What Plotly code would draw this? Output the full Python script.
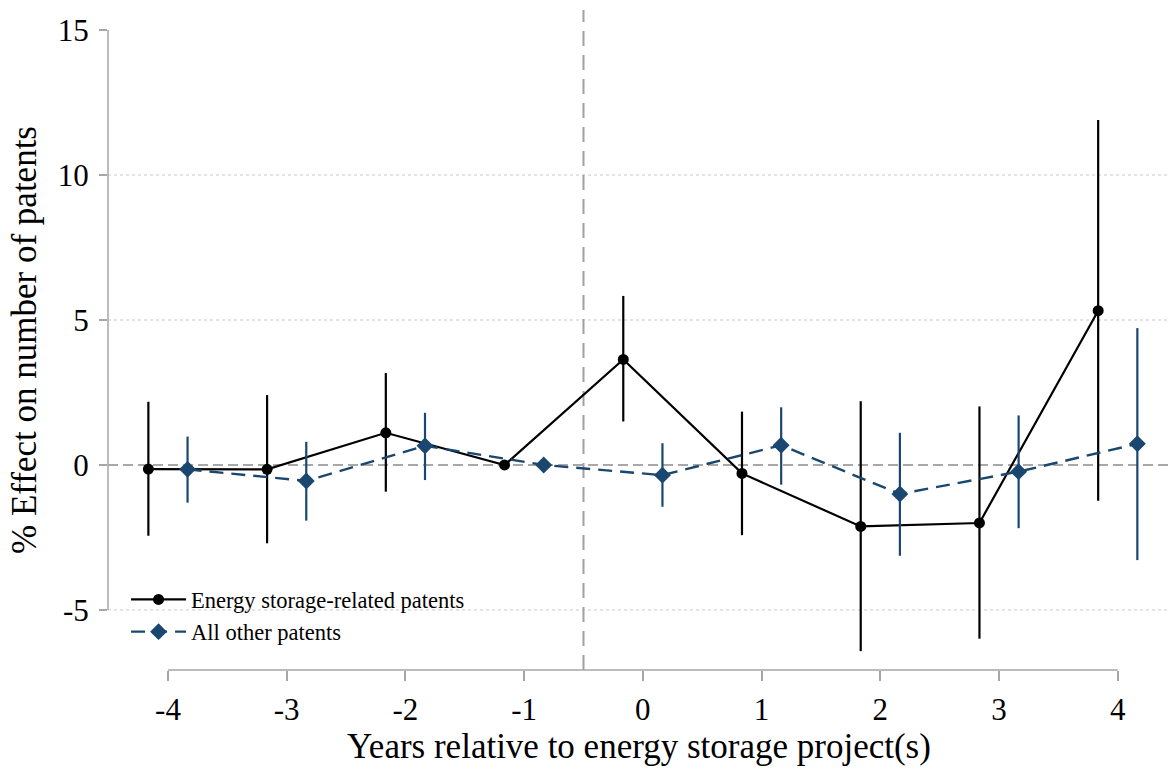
import plotly.graph_objects as go

years = [-4, -3, -2, -1, 0, 1, 2, 3, 4]
offset = 0.165

es_est = [-0.14, -0.15, 1.11, 0.0, 3.64, -0.29, -2.12, -2.00, 5.32]
es_hi = [2.18, 2.41, 3.17, 0.0, 5.83, 1.84, 2.20, 2.02, 11.9]
es_lo = [-2.44, -2.70, -0.92, 0.0, 1.50, -2.42, -6.42, -5.99, -1.23]

ot_est = [-0.15, -0.55, 0.66, 0.0, -0.35, 0.68, -1.00, -0.23, 0.73]
ot_hi = [0.98, 0.80, 1.80, 0.0, 0.75, 1.99, 1.11, 1.71, 4.72]
ot_lo = [-1.30, -1.92, -0.52, 0.0, -1.44, -0.68, -3.13, -2.18, -3.28]

y_ticks = [-5, 0, 5, 10, 15]
grid_vals = [-5, 5, 10]
event_line = -0.5

BLUE = "#1a476f"
FONT = "Liberation Serif"

es_x = [y - offset for y in years]
ot_x = [y + offset for y in years]

fig = go.Figure()
fig.add_trace(go.Scatter(
    x=es_x, y=es_est, mode="lines+markers", name="Energy storage-related patents",
    line=dict(color="black", width=2.2),
    marker=dict(symbol="circle", size=11, color="black"),
    error_y=dict(type="data", symmetric=False,
                 array=[h - e for h, e in zip(es_hi, es_est)],
                 arrayminus=[e - l for e, l in zip(es_est, es_lo)],
                 color="black", thickness=2.2, width=0),
))
fig.add_trace(go.Scatter(
    x=ot_x, y=ot_est, mode="lines+markers", name="All other patents",
    line=dict(color=BLUE, width=2.4, dash="14px,8px"),
    marker=dict(symbol="diamond", size=13, color=BLUE),
    error_y=dict(type="data", symmetric=False,
                 array=[h - e for h, e in zip(ot_hi, ot_est)],
                 arrayminus=[e - l for e, l in zip(ot_est, ot_lo)],
                 color=BLUE, thickness=2.2, width=0),
))

shapes = []
for g in grid_vals:
    shapes.append(dict(type="line", xref="paper", yref="y", x0=0, x1=1, y0=g, y1=g,
                       line=dict(color="#c8c8c8", width=1, dash="dot"), layer="below"))
shapes.append(dict(type="line", xref="paper", yref="y", x0=0, x1=1, y0=0, y1=0,
                   line=dict(color="#8c8c8c", width=1.5, dash="10px,5px"), layer="below"))
shapes.append(dict(type="line", xref="x", yref="paper", x0=event_line, x1=event_line, y0=0, y1=1,
                   line=dict(color="#a0a0a0", width=2, dash="15px,9px"), layer="below"))
# Stata-style axis lines
shapes.append(dict(type="line", xref="paper", yref="y", x0=0, x1=0, y0=min(y_ticks), y1=max(y_ticks),
                   line=dict(color="#a6a6a6", width=1.5)))
shapes.append(dict(type="line", xref="x", yref="paper", x0=min(years), x1=max(years), y0=0, y1=0,
                   line=dict(color="#a6a6a6", width=1.5)))

fig.update_layout(
    width=1171, height=770,
    margin=dict(l=108, r=1, t=10, b=100),
    plot_bgcolor="white", paper_bgcolor="white",
    font=dict(family=FONT, color="black"),
    shapes=shapes,
    showlegend=True,
    legend=dict(x=0.017, y=0.139, xanchor="left", yanchor="top",
                font=dict(family=FONT, size=22.5, color="black"),
                itemwidth=55,
                bgcolor="rgba(0,0,0,0)", tracegroupgap=0),
    xaxis=dict(range=[-4.505, 4.44], tickvals=years, ticktext=[str(v) for v in years],
               showgrid=False, zeroline=False, showline=False,
               ticks="outside", ticklen=10, tickwidth=1.5, tickcolor="#a6a6a6",
               tickfont=dict(family=FONT, size=31), ticklabelstandoff=2,
               title=dict(text="Years relative to energy storage project(s)",
                          font=dict(family=FONT, size=35), standoff=6)),
    yaxis=dict(range=[-7.07, 15.69], tickvals=y_ticks, ticktext=[str(v) for v in y_ticks],
               showgrid=False, zeroline=False, showline=False,
               ticks="outside", ticklen=8, tickwidth=1.5, tickcolor="#a6a6a6",
               tickfont=dict(family=FONT, size=31), ticklabelstandoff=4,
               title=dict(text="% Effect on number of patents",
                          font=dict(family=FONT, size=35), standoff=10)),
)

fig.write_html("out.html")
